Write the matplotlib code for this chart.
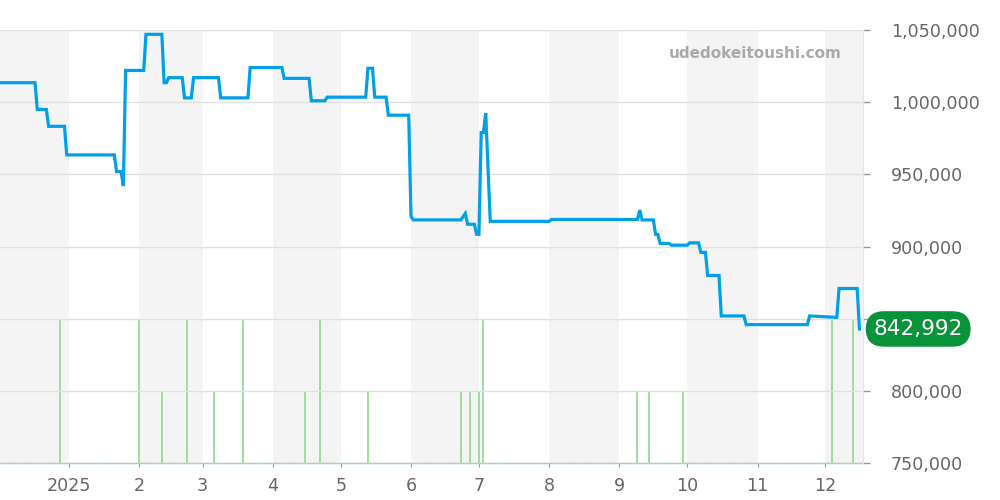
import matplotlib
matplotlib.use("Agg")
import matplotlib.pyplot as plt
import matplotlib.dates as mdates
from matplotlib.ticker import FixedLocator, FuncFormatter
import numpy as np
import pandas as pd

# ---------------- data ----------------
price_dates = [
    "2024-12-01", "2024-12-17", "2024-12-18", "2024-12-22", "2024-12-23", "2024-12-30",
    "2024-12-31", "2025-01-21", "2025-01-22", "2025-01-24", "2025-01-25", "2025-01-26",
    "2025-02-03", "2025-02-04", "2025-02-11", "2025-02-12", "2025-02-13", "2025-02-14",
    "2025-02-20", "2025-02-21", "2025-02-24", "2025-02-25", "2025-03-08", "2025-03-09",
    "2025-03-21", "2025-03-22", "2025-04-05", "2025-04-06", "2025-04-17", "2025-04-18",
    "2025-04-24", "2025-04-25", "2025-05-12", "2025-05-13", "2025-05-15", "2025-05-16",
    "2025-05-21", "2025-05-22", "2025-05-31", "2025-06-01", "2025-06-02", "2025-06-23",
    "2025-06-25", "2025-06-26", "2025-06-29", "2025-06-30", "2025-07-01", "2025-07-02",
    "2025-07-03", "2025-07-04", "2025-07-06", "2025-08-01", "2025-08-02", "2025-09-09",
    "2025-09-10", "2025-09-11", "2025-09-16", "2025-09-17", "2025-09-18", "2025-09-19",
    "2025-09-23", "2025-09-24", "2025-10-01", "2025-10-02", "2025-10-06", "2025-10-07",
    "2025-10-09", "2025-10-10", "2025-10-15", "2025-10-16", "2025-10-26", "2025-10-27",
    "2025-11-23", "2025-11-24", "2025-12-06", "2025-12-07", "2025-12-15", "2025-12-16",
]
price_values = [
    1013500, 1013500, 995000, 995000, 983300, 983300,
    963500, 963500, 952000, 952000, 942000, 1022000,
    1022000, 1047000, 1047000, 1013500, 1013500, 1017000,
    1017000, 1003000, 1003000, 1017000, 1017000, 1003000,
    1003000, 1024000, 1024000, 1016500, 1016500, 1001000,
    1001000, 1003500, 1003500, 1023500, 1023500, 1003500,
    1003500, 991000, 991000, 921000, 918500, 918500,
    923000, 915500, 915500, 908500, 908500, 979000,
    979000, 992500, 917500, 917500, 918800, 918800,
    925300, 918500, 918500, 908500, 908500, 902200,
    902200, 901000, 901000, 902600, 902600, 896000,
    896000, 880000, 880000, 852000, 852000, 846000,
    846000, 852000, 851000, 871000, 871000, 842992,
]

trade_dates = [
    "2024-12-28", "2025-02-01", "2025-02-11", "2025-02-22", "2025-03-06", "2025-03-19",
    "2025-04-15", "2025-04-22", "2025-05-13", "2025-06-23", "2025-06-27", "2025-07-01",
    "2025-07-03", "2025-09-09", "2025-09-14", "2025-09-29", "2025-12-04", "2025-12-13",
]
trade_counts = [2, 2, 1, 2, 1, 2, 1, 2, 1, 1, 1, 1, 2, 1, 1, 1, 2, 2]

y_ticks = [750000, 800000, 850000, 900000, 950000, 1000000, 1050000]
month_tick_dates = ["2025-01-01", "2025-02-01", "2025-03-01", "2025-04-01", "2025-05-01",
                    "2025-06-01", "2025-07-01", "2025-08-01", "2025-09-01", "2025-10-01",
                    "2025-11-01", "2025-12-01"]
month_tick_labels = ["2025", "2", "3", "4", "5", "6", "7", "8", "9", "10", "11", "12"]
last_price_label = "842,992"
watermark = "udedokeitoushi.com"

# ---------------- styling ----------------
LINE_COLOR = "#00a0e9"
BAR_COLOR = "#9fdc9f"
SHADE = "#f4f4f4"
GRID = "#e0e0e0"
TEXT = "#666666"
BADGE = "#08923a"

pdates = pd.to_datetime(price_dates)
tdates = pd.to_datetime(trade_dates)
x_left = pd.Timestamp("2024-12-01 13:00")
x_right = pd.Timestamp("2025-12-17 17:00")

fig = plt.figure(figsize=(10, 5), dpi=100)
fig.patch.set_facecolor("white")
axb = fig.add_axes([0.0, 0.0735, 0.8633, 0.8665])
ax = axb.twinx()

# alternating month shading (even months grey)
mstarts = pd.date_range("2024-12-01", "2026-01-01", freq="MS")
for a, b in zip(mstarts[:-1], mstarts[1:]):
    if a.month % 2 == 0:
        axb.axvspan(a, b, color=SHADE, lw=0, zorder=0)

# trade count bars
axb.vlines(tdates, 0, trade_counts, color=BAR_COLOR, lw=1.4, zorder=2)
axb.set_ylim(0, 6)
axb.set_yticks([])
for s in ["top", "left", "right"]:
    axb.spines[s].set_visible(False)
axb.spines["bottom"].set_color(BAR_COLOR)
axb.spines["bottom"].set_linestyle((0, (1, 0.6)))
axb.spines["bottom"].set_linewidth(1.0)

# price line
ax.plot(pdates, price_values, color=LINE_COLOR, lw=2.3, zorder=3,
        solid_joinstyle="miter")
ax.set_ylim(750000, 1050000)
ax.set_xlim(x_left, x_right)
ax.yaxis.set_major_locator(FixedLocator(y_ticks))
ax.yaxis.set_major_formatter(FuncFormatter(lambda v, p: f"{int(v):,}"))
ax.grid(axis="y", color=GRID, lw=1.0, zorder=1)
ax.set_axisbelow(True)
for s in ["top", "left", "bottom"]:
    ax.spines[s].set_visible(False)
ax.spines["right"].set_color("#e6e6e6")
ax.tick_params(axis="y", which="major", right=True, left=False, length=5,
               color="#999999", width=1, pad=15, labelsize=12.6, labelcolor=TEXT)

# x ticks
axb.xaxis.set_major_locator(FixedLocator(mdates.date2num(pd.to_datetime(month_tick_dates))))
axb.set_xticklabels(month_tick_labels)
axb.tick_params(axis="x", length=3, color="#999999", pad=7, labelsize=12.6, labelcolor=TEXT)
axb.set_xlim(x_left, x_right)
ax.tick_params(axis="x", bottom=False, labelbottom=False)

# last price badge
ax.annotate(last_price_label, xy=(1.0, price_values[-1]),
            xycoords=("axes fraction", "data"),
            xytext=(39.5, 0), textcoords="offset points",
            ha="center", va="center", fontsize=15.5, color="white",
            annotation_clip=False, zorder=10,
            bbox=dict(boxstyle="round,pad=0.36,rounding_size=0.85", fc=BADGE, ec="none"))

# watermark
ax.text(0.9745, 0.945, watermark, transform=ax.transAxes, ha="right", va="center",
        fontsize=11, fontweight="bold", color="#aaaaaa", zorder=5)

fig.savefig("out.png", dpi=100)
